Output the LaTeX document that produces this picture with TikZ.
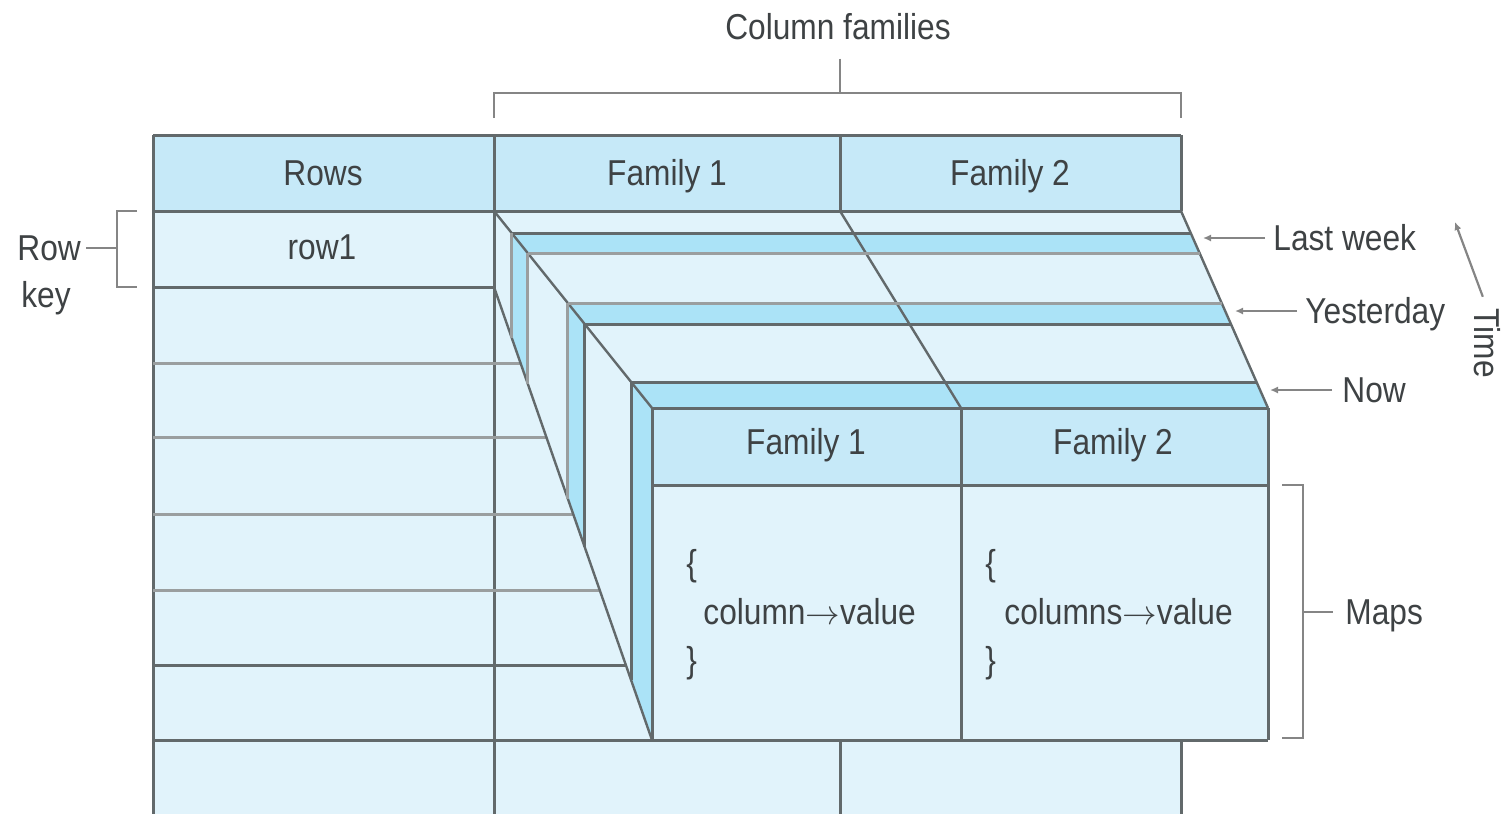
\documentclass[tikz,border=0pt]{standalone}
\usepackage{fontspec}
\setmainfont{Liberation Sans}[FakeStretch=0.88]
\usetikzlibrary{arrows.meta,calc}
\definecolor{hdr}{HTML}{C6E9F8}
\definecolor{cell}{HTML}{E1F3FB}
\definecolor{band}{HTML}{ABE3F7}
\definecolor{edgeD}{HTML}{62696B}
\definecolor{edgeL}{HTML}{9A9E9F}
\definecolor{ink}{HTML}{3E4244}
\definecolor{brk}{HTML}{858585}
\begin{document}
\begin{tikzpicture}[x=0.5pt,y=-0.5pt,
  lbl/.style={font=\fontsize{18}{21}\selectfont, text=ink, inner sep=0pt,
              text height=17pt, text depth=4.1pt},
  dk/.style={draw=edgeD, line width=1.5pt},
  lt/.style={draw=edgeL, line width=1.5pt},
  slant/.style={draw=edgeD, line width=1.2pt},
  brace/.style={draw=brk, line width=1.2pt},
  ptr/.style={draw=brk, line width=1.1pt, -{Latex[length=4pt,width=3.6pt]}},
]
\useasboundingbox (0,0) rectangle (1504,814);

% ---------- fills ----------
\fill[cell] (153,211) rectangle (1181,814);
\fill[hdr]  (153,135) rectangle (1181,211);
% the stack of time versions
\fill[cell] (494,211) -- (1181,211) -- (1268,408) -- (1268,740) -- (652,740) -- (494,287) -- cycle;
% top thickness of each version
\fill[band] (511.64,233) -- (1190.72,233) -- (1199.55,253) -- (527.69,253) -- cycle;
\fill[band] (567.79,303) -- (1221.63,303) -- (1230.90,324) -- (584.63,324) -- cycle;
\fill[band] (631.15,382) -- (1256.52,382) -- (1268,408) -- (652,408) -- cycle;
% side thickness of each version
\fill[band] (511.64,233) -- (527.69,253) -- (527.69,383.6) -- (511.64,337.6) -- cycle;
\fill[band] (567.79,303) -- (584.63,324) -- (584.63,546.8) -- (567.79,498.6) -- cycle;
\fill[band] (631.15,382) -- (652,408) -- (652,740) -- (631.15,680.2) -- cycle;
% front version
\fill[hdr]  (652,408) rectangle (1268,485);
\fill[cell] (652,485) rectangle (1268,740);

% ---------- main table grid ----------
\draw[dk] (153,135) -- (1181,135);
\draw[dk] (153,135) -- (153,814);
\draw[dk] (494,135) -- (494,814);
\draw[dk] (840,135) -- (840,211);
\draw[dk] (1181,135) -- (1181,211);
\draw[dk] (153,211) -- (1181,211);
\draw[dk] (153,287) -- (494,287);
\draw[lt] (153,363) -- (520.5,363);
\draw[lt] (153,437) -- (546.3,437);
\draw[lt] (153,514) -- (573.2,514);
\draw[lt] (153,590) -- (599.7,590);
\draw[dk] (153,665) -- (625.8,665);
\draw[dk] (153,740) -- (1268,740);
\draw[dk] (840,740) -- (840,814);
\draw[dk] (1181,740) -- (1181,814);

% ---------- stack edges ----------
\draw[slant] (494,211) -- (652,408);
\draw[slant] (494,287) -- (652,740);
\draw[slant] (1181,211) -- (1268,408);
\draw[dk] (1268,408) -- (1268,740);
\draw[slant] (840,211) -- (961,408);
\draw[dk] (961,408) -- (961,740);
\draw[dk] (652,485) -- (1268,485);
% band edges
\draw[dk] (511.64,233) -- (1190.72,233);
\draw[lt] (527.69,253) -- (1199.55,253);
\draw[lt] (567.79,303) -- (1221.63,303);
\draw[dk] (584.63,324) -- (1230.90,324);
\draw[dk] (631.15,382) -- (1256.52,382);
\draw[dk] (652,408) -- (1268,408);
% side strip edges
\draw[lt] (511.64,233) -- (511.64,337.6);
\draw[lt] (527.69,253) -- (527.69,383.6);
\draw[lt] (567.79,303) -- (567.79,498.6);
\draw[dk] (584.63,324) -- (584.63,546.8);
\draw[dk] (631.15,382) -- (631.15,680.2);
\draw[dk] (652,408) -- (652,740);

% ---------- table texts ----------
\node[lbl] (rows)  at (323,173) {Rows};
\node[lbl] (fam1)  at (667,173) {Family 1};
\node[lbl] (fam2)  at (1010,173) {Family 2};
\node[lbl] (row1)  at (322,247) {row1};
\node[lbl] (nfam1) at (806,442) {Family 1};
\node[lbl] (nfam2) at (1113,442) {Family 2};
\node[lbl, anchor=west] (ob1) at (686,563) {\{};
\node[lbl, anchor=west] (cv1) at (703,612) {column$\rightarrow$value};
\node[lbl, anchor=west] (cb1) at (686,660) {\}};
\node[lbl, anchor=west] (ob2) at (985,563) {\{};
\node[lbl, anchor=west] (cv2) at (1004,612) {columns$\rightarrow$value};
\node[lbl, anchor=west] (cb2) at (985,660) {\}};

% ---------- column families bracket ----------
\node[lbl] (colfam) at (838,27) {Column families};
\coordinate (cfL) at (494,118);
\coordinate (cfR) at (1181,118);
\coordinate (cfM) at (840,93);
\draw[brace] (cfL) |- (cfR |- cfM) -- (cfR);
\draw[brace, shorten <=5pt] (colfam.south -| cfM) -- (cfM);

% ---------- row key bracket ----------
\node[lbl, anchor=west] (rowlbl) at (17,248) {Row};
\node[lbl, anchor=west] (keylbl) at (21,295) {key};
\coordinate (rkT) at (137,211);
\coordinate (rkB) at (137,287);
\coordinate (rkS) at (117,248);
\draw[brace] (rkT) -- (117,211) -- (117,287) -- (rkB);
\draw[brace, shorten <=2.5pt] (rowlbl.east) -- (rkS);

% ---------- version labels ----------
\node[lbl, anchor=west] (lastwk) at (1273,238) {Last week};
\node[lbl, anchor=west] (yday)   at (1305,311) {Yesterday};
\node[lbl, anchor=west] (now)    at (1342,390) {Now};
\coordinate (lwTip) at (1203,238);
\coordinate (ydTip) at (1235,311);
\coordinate (nwTip) at (1270,390);
\draw[ptr, shorten <=4pt] (lastwk.west) -- (lwTip);
\draw[ptr, shorten <=4pt] (yday.west) -- (ydTip);
\draw[ptr, shorten <=5pt] (now.west) -- (nwTip);

% ---------- time axis ----------
\node[lbl, rotate=-90] (timelbl) at (1487,343) {Time};
\coordinate (tEnd) at (1455,222);
\draw[ptr] ($(timelbl.west)!6pt!(tEnd)$) -- (tEnd);

% ---------- maps bracket ----------
\node[lbl, anchor=west] (maps) at (1345,612) {Maps};
\coordinate (mpT) at (1282,485);
\coordinate (mpB) at (1282,738);
\coordinate (mpS) at (1303,612);
\draw[brace] (mpT) -- (1303,485) -- (1303,738) -- (mpB);
\draw[brace, shorten >=6pt] (mpS) -- (maps.west);
\end{tikzpicture}
\end{document}
